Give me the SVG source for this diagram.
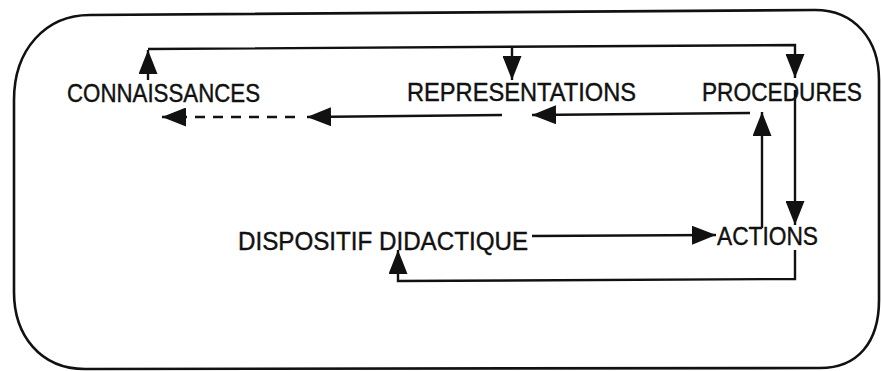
<svg xmlns="http://www.w3.org/2000/svg" width="881" height="371" viewBox="0 0 881 371">
<style>
.lbl{font-family:"Liberation Sans",Arial,sans-serif;font-size:25px;fill:#111;stroke:#111;stroke-width:0.4}
.c{fill:none;stroke:#111;stroke-width:2.4}
</style>
<defs>
<marker id="ah" markerUnits="userSpaceOnUse" markerWidth="25" markerHeight="19" refX="24" refY="9.5" orient="auto">
<path d="M0,0 L24,9.5 L0,19 Z" fill="#111"/>
</marker>
</defs>
<rect width="881" height="371" fill="#fff"/>
<path d="M90,15 L815,10 C855,10 879,40 879,80 L879,300 C879,342 858,368 820,368 L85,369 C40,369 14,335 14,292 L14,100 C14,50 45,15 90,15 Z" fill="none" stroke="#111" stroke-width="2.6"/>
<g id="connectors">
<path class="c" d="M148,80 L148,50" marker-end="url(#ah)"/>
<path class="c" d="M148,49 L795,45 L795,78" marker-end="url(#ah)"/>
<path class="c" d="M512,47 L512,80" marker-end="url(#ah)"/>
<path class="c" d="M795,90 L795,225" marker-end="url(#ah)"/>
<path class="c" d="M795,250 L795,279 L398,281 L398,250" marker-end="url(#ah)"/>
<path class="c" d="M532,236 L716,235" marker-end="url(#ah)"/>
<path class="c" d="M762,228 L762,112" marker-end="url(#ah)"/>
<path class="c" d="M750,113 L532,115" marker-end="url(#ah)"/>
<path class="c" d="M502,115 L307,117" marker-end="url(#ah)"/>
<path class="c" d="M295,117 L162,117" stroke-dasharray="10,8" marker-end="url(#ah)"/>
</g>
<g id="connaissances"><text class="lbl" x="67" y="102" textLength="193" lengthAdjust="spacingAndGlyphs">CONNAISSANCES</text></g>
<g id="representations"><text class="lbl" x="407" y="101" textLength="229" lengthAdjust="spacingAndGlyphs">REPRESENTATIONS</text></g>
<g id="procedures"><text class="lbl" x="702" y="101" textLength="160" lengthAdjust="spacingAndGlyphs">PROCEDURES</text></g>
<g id="dispositif"><text class="lbl" x="238" y="250" textLength="290" lengthAdjust="spacingAndGlyphs">DISPOSITIF DIDACTIQUE</text></g>
<g id="actions"><text class="lbl" x="717" y="245" textLength="101" lengthAdjust="spacingAndGlyphs">ACTIONS</text></g>
</svg>
